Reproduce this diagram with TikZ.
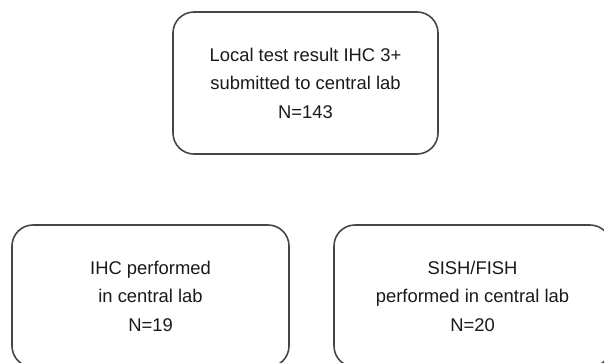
\documentclass[tikz,border=0pt]{standalone}
\usepackage{fontspec}
\setmainfont{Liberation Sans}
\usetikzlibrary{positioning}
\definecolor{ink}{HTML}{1A1A1A}
\definecolor{boxline}{HTML}{454545}
\tikzset{
  flowbox/.style={draw=boxline, line width=1.6pt, rounded corners=21pt, fill=white,
    minimum width=277pt, minimum height=142pt, align=center, text=ink,
    font={\fontsize{18.4}{28.5}\selectfont}, inner sep=0pt}
}
\begin{document}
\begin{tikzpicture}[x=1pt,y=-1pt]
  \useasboundingbox (0,0) rectangle (604,362);
  \clip (0,0) rectangle (604,362);

  \node[flowbox, minimum width=265pt] (sub) at (305.5,83) {Local test result IHC 3+\\submitted to central lab\\N=143};
  \node[flowbox] (ihc) at (150.5,296) {IHC performed\\in central lab\\N=19};
  \node[flowbox] (fish) at (472.5,296) {SISH/FISH\\performed in central lab\\N=20};
\end{tikzpicture}
\end{document}
